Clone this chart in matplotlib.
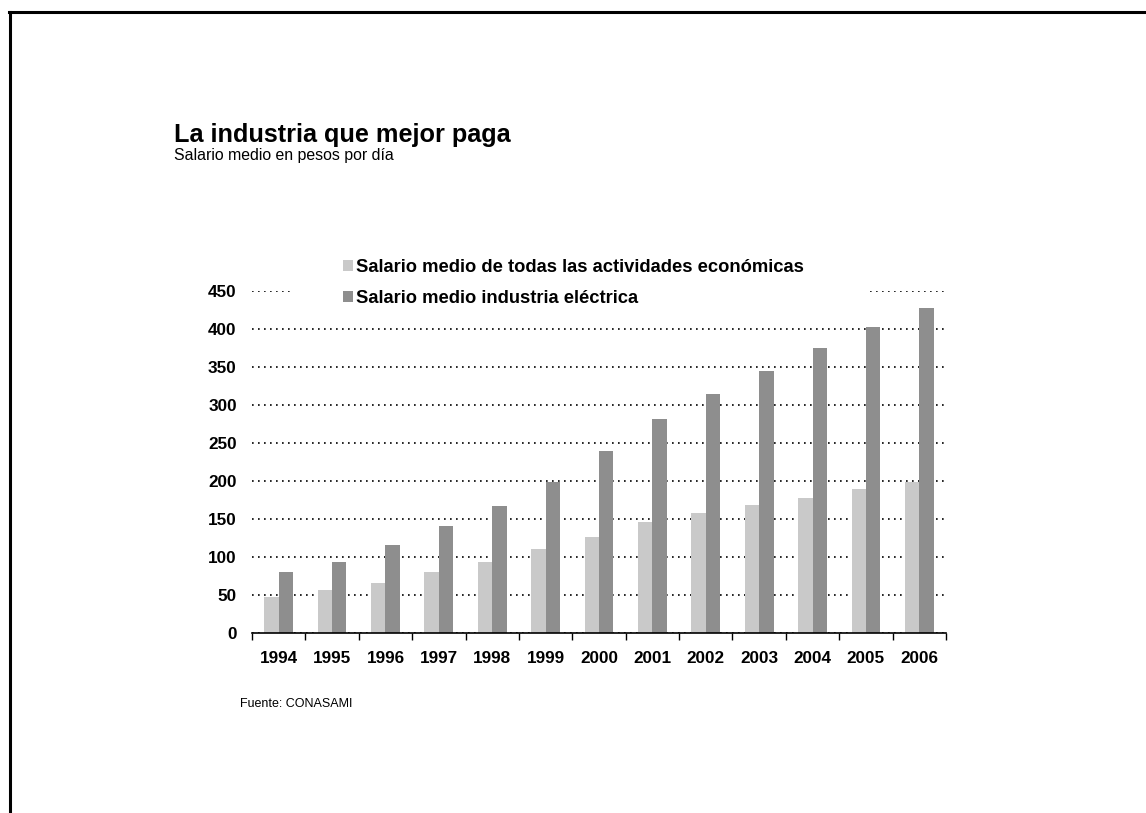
import numpy as np
import matplotlib.pyplot as plt
from matplotlib.lines import Line2D
from matplotlib.patches import Rectangle

plt.rcParams['font.family'] = ['Liberation Sans', 'DejaVu Sans']

years = ['1994', '1995', '1996', '1997', '1998', '1999', '2000',
         '2001', '2002', '2003', '2004', '2005', '2006']
salario_general = [47, 57, 66, 80, 94, 110, 126, 146, 158, 168, 178, 189, 199]
salario_electrica = [80, 94, 116, 141, 167, 199, 239, 281, 315, 345, 375, 402, 427]
yticks = [0, 50, 100, 150, 200, 250, 300, 350, 400, 450]

W, H = 1146, 813
fig = plt.figure(figsize=(W / 100, H / 100), dpi=100)

# frame lines along the top and left edges of the page
fig.add_artist(Line2D([9 / W, 1], [1 - 12 / H, 1 - 12 / H], color='black', lw=2.2))
fig.add_artist(Line2D([10 / W, 10 / W], [0, 1 - 12 / H], color='black', lw=2.2))

ax = fig.add_axes([252 / W, 1 - 633 / H, (946 - 252) / W, (633 - 291) / H])

x = np.arange(len(years))
bw = 0.27
ax.bar(x - bw / 2, salario_general, bw, color='#c9c9c9', zorder=2,
       label='Salario medio de todas las actividades económicas')
ax.bar(x + bw / 2, salario_electrica, bw, color='#8e8e8e', zorder=2,
       label='Salario medio industria eléctrica')

ax.set_xlim(-0.5, len(years) - 0.5)
ax.set_ylim(0, 450)
ax.set_yticks(yticks)
ax.set_yticklabels([str(v) for v in yticks], fontsize=12.3, fontweight='bold')
ax.tick_params(axis='y', length=0, pad=11)

ax.set_xticks(np.arange(len(years) + 1) - 0.5)
ax.set_xticklabels([])
ax.tick_params(axis='x', which='major', length=5, width=1, direction='out')
ax.set_xticks(x, minor=True)
ax.set_xticklabels(years, minor=True, fontsize=12.3, fontweight='bold')
ax.tick_params(axis='x', which='minor', length=0, pad=13)

ax.grid(axis='y', color='black', linestyle=(0, (1, 2.6)), linewidth=1.2)
ax.set_axisbelow(True)
for s in ['top', 'right', 'left']:
    ax.spines[s].set_visible(False)
ax.spines['bottom'].set_linewidth(1.2)

# white block behind the legend hides part of the top gridline
ax.add_patch(Rectangle((291 / W, 1 - 314 / H), (869 - 291) / W, 62 / H,
                       transform=fig.transFigure, facecolor='white',
                       edgecolor='none', zorder=1.5, clip_on=False))

leg = ax.legend(loc='upper left', bbox_to_anchor=(343 / W, 1 - 259 / H),
                bbox_transform=fig.transFigure, frameon=False,
                prop={'size': 13.2, 'weight': 'bold'}, handlelength=0.52,
                handleheight=0.52, handletextpad=0.18, labelspacing=0.76,
                borderpad=0, borderaxespad=0)

fig.text(174 / W, 1 - 142 / H, 'La industria que mejor paga', fontsize=18.2,
         fontweight='bold', va='baseline', ha='left')
fig.text(174 / W, 1 - 160 / H, 'Salario medio en pesos por día', fontsize=11.4,
         va='baseline', ha='left')
fig.text(240 / W, 1 - 704 / H, 'Fuente: CONASAMI', fontsize=9,
         va='center', ha='left')

fig.savefig('out.png', dpi=100)
